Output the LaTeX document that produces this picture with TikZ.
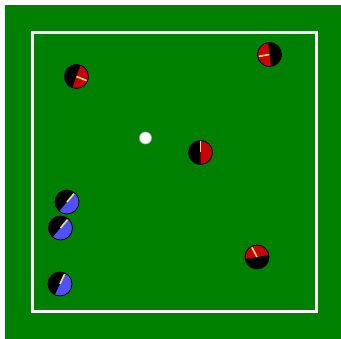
\documentclass[tikz,border=0pt]{standalone}
\usepackage{xcolor}

\definecolor{fieldgreen}{RGB}{0,128,0}
\definecolor{teamred}{RGB}{204,0,0}
\definecolor{teamblue}{RGB}{80,80,255}
\definecolor{kicker}{RGB}{236,228,120}

\begin{document}
\begin{tikzpicture}[x=1pt,y=1pt]
    \def\r{12}

    \useasboundingbox (0,0) rectangle (341,339);
    \fill[color=fieldgreen] (5,0) rectangle (341,334);
    \draw[white,line width=3pt] (32.5,27.5) rectangle (316.5,306.5);

    % robots: x/y/team colour/start of the coloured half/kicker direction
    \foreach \x/\y/\c/\a/\h in {76.5/262.5/teamred/-110/-22,
                               269.5/284.5/teamred/97/190,
                               200.5/186.5/teamred/-90/90,
                               257/82/teamred/10/118,
                               67/137/teamblue/-130/50,
                               60.5/111/teamblue/-130/50,
                               60/55/teamblue/-115/65}{
        \fill[color=black] (\x,\y) circle (\r);
        \fill[color=\c] (\x,\y) -- ++(\a:\r) arc[start angle=\a, delta angle=180, radius=\r] -- cycle;
        \draw[color=kicker,line width=1.6pt] (\x,\y) -- ++(\h:\r-1);
        \draw[color=black,line width=0.8pt] (\x,\y) circle (\r);
    }

    % ball
    \fill[color=white,draw=gray!60,line width=0.6pt] (145.5,201) circle (6);
\end{tikzpicture}
\end{document}
